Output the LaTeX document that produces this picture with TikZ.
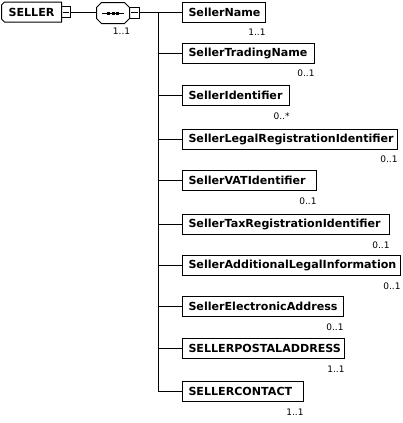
\documentclass[tikz,border=0pt]{standalone}
\usepackage{fontspec}
\setmainfont{DejaVu Sans}
\newcommand\myfit[2]{\makebox[#1][l]{#2}}
\begin{document}
\begin{tikzpicture}[x=1pt,y=-1pt,line width=1pt,
  elem/.style={draw, anchor=west, minimum height=20pt, inner xsep=6pt, inner ysep=0pt,
    font=\fontsize{11.1}{12}\selectfont\bfseries},
  mult/.style={anchor=east, inner sep=0pt, font=\fontsize{9}{10}\selectfont},
  root/.style={minimum width=59pt, minimum height=19pt, inner sep=0pt,
    font=\fontsize{11.1}{12}\selectfont\bfseries},
  seqbox/.style={minimum width=32pt, minimum height=20pt, inner sep=0pt},
  minusbox/.style={draw, minimum width=9pt, minimum height=11pt, inner sep=0pt},
  conn/.style={draw, line width=1pt}
]
\useasboundingbox[fill=white] (0,0) rectangle (402,423);

% root
\node[root] (seller) at (31.5,12) {SELLER};
\draw ([xshift=3pt]seller.north west) -- (seller.north east) -- (seller.south east)
  -- ([xshift=3pt]seller.south west) -- ([yshift=3pt]seller.south west)
  -- ([yshift=-3pt]seller.north west) -- cycle;
\node[minusbox] (sm) at (65.5,12) {};
\draw ([xshift=2pt]sm.west) -- ([xshift=-2pt]sm.east);

% sequence compositor
\node[seqbox] (seq) at (113,13) {};
\draw ([xshift=5pt]seq.north west) -- ([xshift=-5pt]seq.north east)
  -- ([yshift=-5pt]seq.north east) -- ([yshift=5pt]seq.south east)
  -- ([xshift=-5pt]seq.south east) -- ([xshift=5pt]seq.south west)
  -- ([yshift=5pt]seq.south west) -- ([yshift=-5pt]seq.north west) -- cycle;
\draw ([xshift=-11pt]seq.center) -- ([xshift=11pt]seq.center);
\foreach \dx in {-4.5,0,4.5}
  \fill ([xshift=\dx pt]seq.center) +(-1.5pt,-1.5pt) rectangle +(1.5pt,1.5pt);
\node[minusbox, minimum width=10pt] (qm) at (134.5,12.5) {};
\draw ([xshift=2pt]qm.west) -- ([xshift=-2pt]qm.east);
\node[mult, anchor=center] (seqm) at (121.5,31) {1..1};

\draw[conn] (sm.east) -- (seq.west |- sm.east);
\coordinate (jt) at (158,12.5);
\coordinate (jb) at (158,391.5);
\draw[conn] (qm.east) -- (jt);
\draw[conn] (jt) -- (jb);

% children
\node[elem] (c1) at (182,12) {\myfit{71pt}{SellerName}};
\node[elem] (c2) at (182,53) {\myfit{120pt}{SellerTradingName}};
\node[elem] (c3) at (182,95.5) {\myfit{95pt}{SellerIdentifier}};
\node[elem] (c4) at (182,139) {\myfit{203pt}{SellerLegalRegistrationIdentifier}};
\node[elem] (c5) at (182,180.5) {\myfit{122pt}{SellerVATIdentifier}};
\node[elem] (c6) at (182,224.5) {\myfit{195pt}{SellerTaxRegistrationIdentifier}};
\node[elem] (c7) at (182,265.5) {\myfit{206pt}{SellerAdditionalLegalInformation}};
\node[elem] (c8) at (182,306.5) {\myfit{149pt}{SellerElectronicAddress}};
\node[elem] (c9) at (182,348.5) {\myfit{150pt}{SELLERPOSTALADDRESS}};
\node[elem] (c10) at (182,391.5) {\myfit{109pt}{SELLERCONTACT}};

\foreach \i/\m in {1/1..1,2/0..1,3/0..*,4/0..1,5/0..1,6/0..1,7/0..1,8/0..1,9/1..1,10/1..1}{
  \draw[conn] (jt |- c\i.west) -- (c\i.west);
  \node[mult] (m\i) at ([yshift=-10pt]c\i.south east) {\m};
}
\end{tikzpicture}
\end{document}
